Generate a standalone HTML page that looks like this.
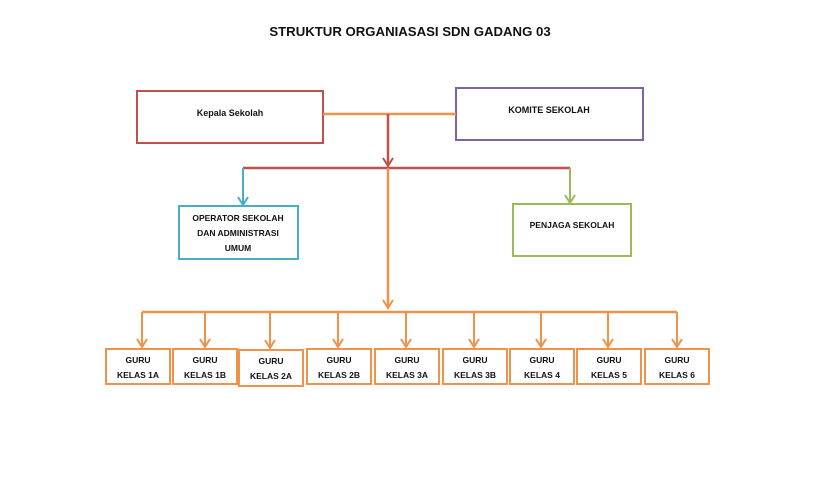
<!DOCTYPE html>
<html><head><meta charset="utf-8"><style>
html,body{margin:0;padding:0;background:#fff;width:820px;height:480px;overflow:hidden}
text{font-family:"Liberation Sans",sans-serif;font-weight:bold;fill:#111}
</style></head><body>
<svg width="820" height="480" viewBox="0 0 820 480" xmlns="http://www.w3.org/2000/svg">
<text x="410" y="36" text-anchor="middle" font-size="13.2">STRUKTUR ORGANIASASI SDN GADANG 03</text>
<rect x="137" y="91" width="186" height="52" fill="none" stroke="#c0504d" stroke-width="2"/>
<text x="230" y="116" text-anchor="middle" font-size="9">Kepala Sekolah</text>
<rect x="456" y="88" width="187" height="52" fill="none" stroke="#8064a2" stroke-width="2"/>
<text x="549" y="113" text-anchor="middle" font-size="9">KOMITE SEKOLAH</text>
<line x1="323" y1="114" x2="456" y2="114" stroke="#f0924a" stroke-width="2.5"/>
<line x1="388" y1="114" x2="388" y2="166" stroke="#c0504d" stroke-width="2.5"/>
<path d="M383,158 L388,166 L393,158" fill="none" stroke="#c0504d" stroke-width="2"/>
<line x1="243" y1="168" x2="570" y2="168" stroke="#c0504d" stroke-width="2.5"/>
<line x1="243" y1="168" x2="243" y2="205" stroke="#4bacc6" stroke-width="2"/>
<path d="M238,197 L243,205 L248,197" fill="none" stroke="#4bacc6" stroke-width="2"/>
<line x1="570" y1="168" x2="570" y2="203" stroke="#9bbb59" stroke-width="2"/>
<path d="M565,195 L570,203 L575,195" fill="none" stroke="#9bbb59" stroke-width="2"/>
<rect x="179" y="206" width="119" height="53" fill="none" stroke="#4bacc6" stroke-width="2"/>
<text x="238" y="221" text-anchor="middle" font-size="8.5">OPERATOR SEKOLAH</text>
<text x="238" y="236" text-anchor="middle" font-size="8.5">DAN ADMINISTRASI</text>
<text x="238" y="251" text-anchor="middle" font-size="8.5">UMUM</text>
<rect x="513" y="204" width="118" height="52" fill="none" stroke="#9bbb59" stroke-width="2"/>
<text x="572" y="228" text-anchor="middle" font-size="8.5">PENJAGA SEKOLAH</text>
<line x1="388" y1="168" x2="388" y2="308" stroke="#f0924a" stroke-width="2.5"/>
<path d="M383,300 L388,308 L393,300" fill="none" stroke="#f0924a" stroke-width="2"/>
<line x1="142" y1="312" x2="677" y2="312" stroke="#f0924a" stroke-width="2.5"/>
<g stroke="#f0924a" stroke-width="2" fill="none">
<path d="M142,312 V347 M137,339 L142,347 L147,339"/>
<path d="M205,312 V347 M200,339 L205,347 L210,339"/>
<path d="M270,312 V348 M265,340 L270,348 L275,340"/>
<path d="M338,312 V347 M333,339 L338,347 L343,339"/>
<path d="M406,312 V347 M401,339 L406,347 L411,339"/>
<path d="M474,312 V347 M469,339 L474,347 L479,339"/>
<path d="M541,312 V347 M536,339 L541,347 L546,339"/>
<path d="M608,312 V347 M603,339 L608,347 L613,339"/>
<path d="M677,312 V347 M672,339 L677,347 L682,339"/>
<rect x="106" y="349" width="64" height="35"/>
<rect x="173" y="349" width="64" height="35"/>
<rect x="239" y="350" width="64" height="36"/>
<rect x="307" y="349" width="64" height="35"/>
<rect x="375" y="349" width="64" height="35"/>
<rect x="443" y="349" width="64" height="35"/>
<rect x="510" y="349" width="64" height="35"/>
<rect x="577" y="349" width="64" height="35"/>
<rect x="645" y="349" width="64" height="35"/>
</g>
<g font-size="8.5" text-anchor="middle">
<text x="138" y="363">GURU</text><text x="138" y="378">KELAS 1A</text>
<text x="205" y="363">GURU</text><text x="205" y="378">KELAS 1B</text>
<text x="271" y="364">GURU</text><text x="271" y="379">KELAS 2A</text>
<text x="339" y="363">GURU</text><text x="339" y="378">KELAS 2B</text>
<text x="407" y="363">GURU</text><text x="407" y="378">KELAS 3A</text>
<text x="475" y="363">GURU</text><text x="475" y="378">KELAS 3B</text>
<text x="542" y="363">GURU</text><text x="542" y="378">KELAS 4</text>
<text x="609" y="363">GURU</text><text x="609" y="378">KELAS 5</text>
<text x="677" y="363">GURU</text><text x="677" y="378">KELAS 6</text>
</g>
</svg>
</body></html>
